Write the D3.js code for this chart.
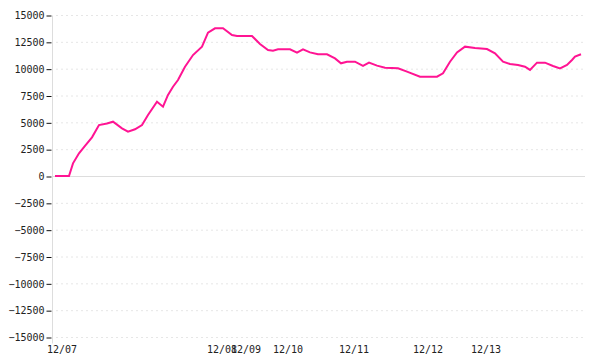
<!DOCTYPE html>
<html>
<head>
<meta charset="utf-8">
<script src="https://cdn.jsdelivr.net/npm/d3@7"></script>
<style>
  body { margin: 0; background: #fff; }
  text { font-family: "DejaVu Sans Mono", monospace; font-size: 10px; fill: #222; }
</style>
</head>
<body>
<div id="container"></div>
<script>
let w = 600;
let h = 360;

// DATA
// sample position (step) and value of each point
let steps = [0, 14, 18, 24, 30, 37, 44, 52, 58, 67, 73, 80, 87, 93, 102, 108, 113, 118, 123, 130, 138, 147, 153, 160, 168,
  177, 182, 197, 205, 213, 218, 223, 235, 242, 248, 255, 263, 272, 280, 286, 292, 300, 308, 314, 322, 330, 343, 352,
  365, 382, 388, 395, 402, 410, 420, 432, 440, 448, 455, 463, 470, 475, 482, 490, 498, 505, 512, 517, 520, 526];
let values = [0, 0, 1180, 2110, 2800, 3600, 4750, 4900, 5060, 4440, 4130, 4350, 4750, 5680, 6920, 6460, 7550, 8320, 8940, 10180,
  11270, 12050, 13350, 13760, 13760, 13140, 13040, 13040, 12300, 11740, 11680, 11800, 11800, 11490, 11800, 11520, 11340,
  11340, 10960, 10500, 10650, 10650, 10250, 10560, 10280, 10090, 10030, 9720, 9250, 9250, 9570, 10650, 11520, 12050, 11930,
  11830, 11430, 10650, 10430, 10340, 10180, 9880, 10560, 10560, 10250, 10030, 10340, 10810, 11120, 11340];
let dayLabels = ["12/07", "12/08", "12/09", "12/10", "12/11", "12/12", "12/13"];
let daySteps = [0, 160, 184, 226, 292, 366, 424];
let yTicks = d3.range(-15000, 15001, 2500);

let data = steps.map((s, i) => ({s: s, v: values[i]}));

// SVG
let viz = d3.select("#container").append("svg")
    .attr("width", w)
    .attr("height", h);

let xScale = d3.scaleLinear().domain([-3, 530]).range([52, 585]);
let yScale = d3.scaleLinear().domain([-15000, 15000]).range([337, 15]);

// grid
viz.append("g").selectAll("line").data(yTicks.filter(d => d != 0)).enter().append("line")
    .attr("x1", xScale(-3) + 4)
    .attr("x2", xScale(530))
    .attr("y1", d => yScale(d) + 0.5)
    .attr("y2", d => yScale(d) + 0.5)
    .attr("stroke", "#e6e6e6")
    .attr("stroke-dasharray", "2,3");

// zero line
viz.append("line")
    .attr("x1", xScale(-3)).attr("x2", xScale(530))
    .attr("y1", yScale(0) + 0.5).attr("y2", yScale(0) + 0.5)
    .attr("stroke", "#dddddd");

// y axis
let yAxis = viz.append("g")
    .attr("transform", "translate(" + (xScale(-3) + 0.5) + ",0.5)")
    .call(d3.axisLeft(yScale).tickValues(yTicks).tickFormat(d3.format("d")).tickSize(6).tickPadding(2).tickSizeOuter(0));
yAxis.select(".domain").attr("stroke", "#dddddd").attr("d", "M0," + yScale(15000) + "V" + (yScale(-15000) + 6));
yAxis.selectAll(".tick line").attr("stroke", "#111").attr("x1", -1);
yAxis.selectAll("text").style("font-family", "DejaVu Sans Mono, monospace").style("font-size", "10px").attr("fill", "#222");

// x labels
viz.append("g").selectAll("text").data(dayLabels).enter().append("text")
    .attr("x", (d, i) => xScale(daySteps[i]) - 8)
    .attr("y", 353)
    .attr("text-anchor", "start")
    .text(d => d);

// line
let lineMaker = d3.line().x(d => xScale(d.s)).y(d => yScale(d.v));
viz.append("path")
    .datum(data)
    .attr("d", lineMaker)
    .attr("fill", "none")
    .attr("stroke", "#ff1493")
    .attr("stroke-width", 2);
</script>
</body>
</html>
